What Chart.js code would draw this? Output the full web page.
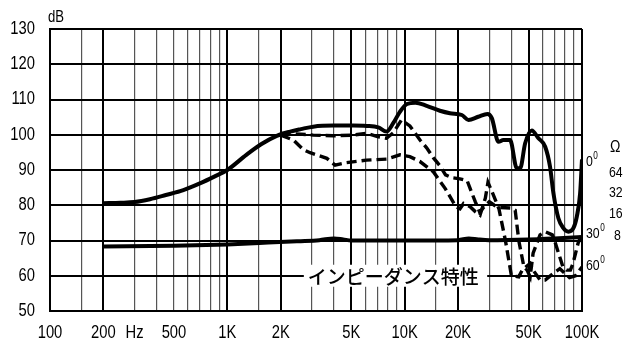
<!DOCTYPE html>
<html>
<head>
<meta charset="utf-8">
<script src="https://cdn.jsdelivr.net/npm/chart.js@4/dist/chart.umd.min.js"></script>
<style>
html,body{margin:0;padding:0;background:#fff;}
#wrap{width:635px;height:353px;position:relative;}
</style>
</head>
<body>
<div id="wrap"><canvas id="c" width="635" height="353"></canvas></div>
<script>
// ---- Data (frequency in Hz, level in dB) ----
const f0   = [200,250,300,366,450,565,700,850,1000,1280,1550,1900,2260,2600,3050,3960,5140,6100,7100,7900,8600,9400,10300,11500,13300,15800,18000,21000,22900,26000,29300,31000,33800,36000,39300,42900,44800,47800,52100,56800,62000,66000,69000,73600,78500,83800,89400,93500,97600,100000];
const db0  = [80.6,80.7,80.9,81.7,82.9,84.3,86.2,88.2,90,94.3,97.3,99.7,100.9,101.6,102.3,102.6,102.6,102.5,102.1,100.9,103.2,106.5,108.7,109.1,108.2,106.8,106.1,105.6,104.2,105.1,105.9,104.7,98,98.5,98.5,90.5,90.5,97.6,101.2,99,96.6,91,83.4,76.3,73.5,72.5,73.5,76.8,83.4,93];

const f30  = [2000,2360,3050,3960,5140,6100,7100,7900,8600,9600,10700,12200,13300,14500,15800,17000,18500,20500,22500,23500,25000,26500,28000,30000,32000,34000,40000,42000,44000,47000,49000,51000,53000,58000,62000,68000,70000,78000,82000,86000,89000,95000,100000];
const db30 = [100.4,100.3,99.9,99.7,99.9,100.4,99.4,99.0,100.5,104.2,102.5,98.5,96.3,93.5,91.2,88.6,87.8,87.5,87,84.5,81,78,79.5,81,80,79.4,79.2,78.6,70,62.6,61.6,59.7,66.4,71.6,72.5,71.6,70,62.6,61.6,61.6,63.5,69.2,72];

const f60  = [2000,2360,2680,2930,3640,4050,4700,6100,7900,9400,10700,12200,14500,16900,19500,20500,21500,23400,25000,26600,28500,29500,31000,34000,37000,40000,44000,46000,51000,53000,58000,62000,69000,75000,85000,92000,100000];
const db60 = [99.9,98.5,95.8,94.9,93.3,91.4,92.1,92.8,93.1,94.3,93.8,92.4,89.5,84.8,79.5,79,80.5,79.6,78.2,77.2,82,86.5,84,79,70,60,59.7,61.6,63.5,61.6,58.8,58.8,60.7,62,59.5,60,62.5];

const fImp  = [200,500,1000,1700,2500,3300,4000,4500,5000,7000,10000,20000,23000,26000,30000,50000,70000,100000];
const dbImp = [68.3,68.5,68.9,69.4,69.8,70.1,70.6,70.3,70,70,70,70.1,70.6,70.3,70.1,70.3,70.6,71];

// ---- Axis ticks ----
const xGridValues = [100,150,200,300,400,500,600,700,800,900,1000,1500,2000,3000,4000,5000,6000,7000,8000,9000,10000,15000,20000,30000,40000,50000,60000,70000,80000,90000,100000];
const xLabelValues = [100,200,300,500,1000,2000,5000,10000,20000,50000,100000];
const xLabelTexts  = ['100','200','Hz','500','1K','2K','5K','10K','20K','50K','100K'];
const xMajorValues = [100,200,1000,2000,5000,10000,20000,50000,100000];
const yTicks = [50,60,70,80,90,100,110,120,130];

const pts = (xs, ys) => xs.map((x, i) => ({x: x, y: ys[i]}));
const FONT = '"Liberation Sans", Arial, sans-serif';
const NARROW = 0.82;

// draw horizontally condensed text (Arial Narrow look)
function narrowText(ctx, text, x, y, size, align) {
  ctx.save();
  ctx.font = size + 'px ' + FONT;
  ctx.textBaseline = 'middle';
  ctx.textAlign = align;
  ctx.translate(x, y);
  ctx.scale(NARROW, 1);
  ctx.fillText(text, 0, 0);
  const w = ctx.measureText(text).width * NARROW;
  ctx.restore();
  return w;
}

const labelPlugin = {
  id: 'labels',
  beforeDatasetsDraw(chart) {
    const ctx = chart.ctx;
    const xs = chart.scales.x, ys = chart.scales.y;
    const yMid = ys.getPixelForValue(60);
    const x1 = xs.getPixelForValue(2700);
    const x2 = xs.getPixelForValue(29200);
    ctx.save();
    ctx.fillStyle = '#fff';
    ctx.fillRect(x1, yMid - 11, x2 - x1, 22);
    ctx.fillStyle = '#000';
    ctx.font = '500 19px "Noto Sans CJK JP"';
    ctx.textBaseline = 'middle';
    ctx.textAlign = 'left';
    ctx.fillText('インピーダンス特性', x1 + 4, yMid + 1);
    ctx.restore();
  },
  afterDraw(chart) {
    const ctx = chart.ctx;
    const xs = chart.scales.x, ys = chart.scales.y;
    ctx.save();
    ctx.fillStyle = '#000';
    // axis tick labels
    yTicks.forEach(v => narrowText(ctx, String(v), 35, ys.getPixelForValue(v), 18, 'right'));
    xLabelValues.forEach((v, i) => narrowText(ctx, xLabelTexts[i], xs.getPixelForValue(v), 333, 18, 'center'));
    // unit and right-side labels
    narrowText(ctx, 'dB', 48, 18, 16, 'left');
    narrowText(ctx, 'Ω', 610, 147, 17, 'left');
    narrowText(ctx, '64', 609, 173, 15, 'left');
    narrowText(ctx, '32', 609, 193, 15, 'left');
    narrowText(ctx, '16', 609, 214, 15, 'left');
    narrowText(ctx, '8', 614, 236, 15, 'left');
    const deg = (main, x, y) => {
      const w = narrowText(ctx, main, x, y, 15, 'left');
      narrowText(ctx, '0', x + w + 0.5, y - 6, 10, 'left');
    };
    deg('0', 586, 162);
    deg('30', 586, 234);
    deg('60', 586, 266);
    ctx.restore();
  }
};

new Chart(document.getElementById('c'), {
  type: 'line',
  data: {
    datasets: [
      {data: pts(f0, db0), borderColor: '#000', borderWidth: 4, pointRadius: 0, cubicInterpolationMode: 'monotone', fill: false},
      {data: pts(f30, db30), borderColor: '#000', borderWidth: 3.4, borderDash: [10, 5], pointRadius: 0, tension: 0, fill: false},
      {data: pts(f60, db60), borderColor: '#000', borderWidth: 3.4, borderDash: [10, 5], pointRadius: 0, tension: 0, fill: false},
      {data: pts(fImp, dbImp), borderColor: '#000', borderWidth: 4, pointRadius: 0, cubicInterpolationMode: 'monotone', fill: false}
    ]
  },
  options: {
    responsive: false,
    animation: false,
    events: [],
    layout: {padding: {left: 0, top: 29, right: 53, bottom: 0}},
    plugins: {legend: {display: false}, tooltip: {enabled: false}},
    scales: {
      x: {
        type: 'logarithmic',
        min: 100, max: 100000,
        afterBuildTicks(scale) { scale.ticks = xGridValues.map(v => ({value: v})); },
        afterFit(scale) { scale.height = 42; },
        ticks: {display: false},
        grid: {
          drawTicks: false,
          color: ctx => (ctx.tick && xMajorValues.includes(ctx.tick.value)) ? '#000' : '#555',
          lineWidth: ctx => (ctx.tick && xMajorValues.includes(ctx.tick.value)) ? 2 : 1.2
        },
        border: {display: true, color: '#000', width: 2}
      },
      y: {
        min: 50, max: 130,
        afterBuildTicks(scale) { scale.ticks = yTicks.map(v => ({value: v})); },
        afterFit(scale) { scale.width = 50; },
        ticks: {display: false},
        grid: {drawTicks: false, color: '#000', lineWidth: 2},
        border: {display: true, color: '#000', width: 2}
      }
    }
  },
  plugins: [labelPlugin]
});
</script>
</body>
</html>
